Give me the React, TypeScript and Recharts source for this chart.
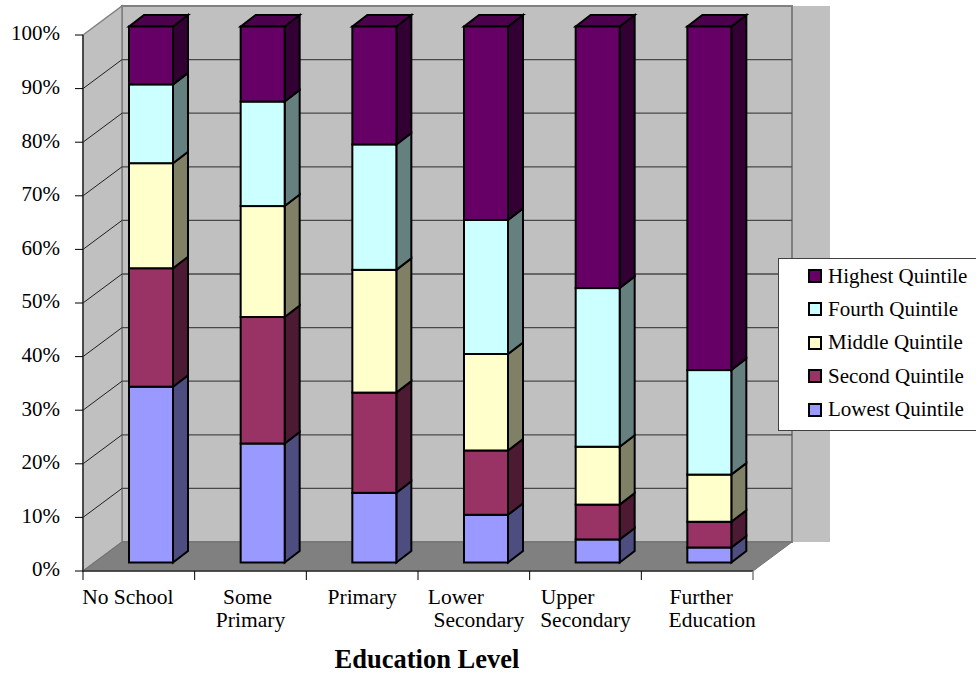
import React from "react";
import { BarChart, Bar, XAxis, YAxis, CartesianGrid, Legend } from "recharts";

const categories = ["No School", "Some Primary", "Primary", "Lower Secondary", "Upper Secondary", "Further Education"];
const lowest = [32.8, 22.2, 13.0, 8.9, 4.3, 2.8];
const second = [22.1, 23.6, 18.7, 12.0, 6.5, 4.8];
const middle = [19.6, 20.7, 22.9, 18.0, 10.8, 8.8];
const fourth = [14.7, 19.5, 23.4, 25.0, 29.6, 19.5];
const highest = [10.8, 14.0, 22.0, 36.1, 48.8, 64.1];
const yTicks = [0, 10, 20, 30, 40, 50, 60, 70, 80, 90, 100];

const rows = categories.map((name, i) => ({
  name,
  lowest: lowest[i],
  second: second[i],
  middle: middle[i],
  fourth: fourth[i],
  highest: highest[i],
}));

const FONT = "'Liberation Serif', 'Times New Roman', serif";
const WALL = "#c0c0c0";
const EDGE = "#808080";
const DEPTH_X = 39;
const DEPTH_Y = 29;
const BAR_DX = 12;
const BAR_DY = -8.5;
const SIDE_X = 15;
const SIDE_Y = 11.5;

// Each category label is split over lines, with each line nudged sideways on its own.
const tickLines: Record<string, [string, number][]> = {
  "No School": [["No School", -11]],
  "Some Primary": [["Some", -3], ["Primary", 0]],
  Primary: [["Primary", 0]],
  "Lower Secondary": [["Lower", -18], ["Secondary", 5]],
  "Upper Secondary": [["Upper", -18], ["Secondary", 0]],
  "Further Education": [["Further", 4], ["Education", 15]],
};

// Back wall, side wall and floor of the 3-D box behind the bars.
function Walls({ x, y, w, h }: { x: number; y: number; w: number; h: number }) {
  const bx = x + DEPTH_X;
  const by = y - DEPTH_Y;
  return (
    <g>
      <rect x={x + w + DEPTH_X} y={by} width={38} height={h} fill={WALL} />
      <rect x={bx} y={by} width={w} height={h} fill={WALL} stroke={EDGE} strokeWidth={2} />
      <polygon points={`${x},${y} ${bx},${by} ${bx},${by + h} ${x},${y + h}`} fill={WALL} stroke={EDGE} strokeWidth={1.5} />
      <polygon
        points={`${x},${y + h} ${bx},${by + h} ${bx + w},${by + h} ${x + w},${y + h}`}
        fill={EDGE}
        stroke="#707070"
        strokeWidth={1}
      />
    </g>
  );
}

// The grid draws the box first, then each value line bent along the side wall and the back wall.
function GridLine(props: any) {
  const { y1, index, x, y, width, height } = props;
  const inner = y1 > y + 1 && y1 < y + height - 1;
  return (
    <g>
      {index === 0 && <Walls x={x} y={y} w={width} h={height} />}
      {inner && (
        <g fill="none">
          <path d={`M${x},${y1} L${x + DEPTH_X},${y1 - DEPTH_Y}`} stroke="#202020" strokeWidth={1} />
          <path d={`M${x + DEPTH_X},${y1 - DEPTH_Y} L${x + DEPTH_X + width},${y1 - DEPTH_Y}`} stroke="#484848" strokeWidth={1.3} />
        </g>
      )}
    </g>
  );
}

function CategoryTick(props: any) {
  const { x, payload, index } = props;
  const step = 670 / categories.length;
  const last = index === categories.length - 1;
  const lines = tickLines[payload.value] ?? [[payload.value, 0]];
  return (
    <g>
      <line x1={x - step / 2} y1={571} x2={x - step / 2} y2={580} stroke="#000" strokeWidth={1} />
      {last && <line x1={x + step / 2} y1={571} x2={x + step / 2} y2={580} stroke={EDGE} strokeWidth={1.5} />}
      {lines.map(([text, dx], i) => (
        <text key={text} x={x + dx} y={604 + i * 23} textAnchor="middle" fontFamily={FONT} fontSize={21.5} fill="#000">
          {text}
        </text>
      ))}
    </g>
  );
}

function darker(hex: string, k: number) {
  const n = parseInt(hex.slice(1), 16);
  const c = [(n >> 16) & 255, (n >> 8) & 255, n & 255].map((v) => Math.round(v * k));
  return `rgb(${c[0]},${c[1]},${c[2]})`;
}

// Front, side and (for the top segment) lid of one stacked block.
function Block(props: any) {
  const { x, y, width, height, fill, lid } = props;
  const l = x + BAR_DX;
  const t = y + BAR_DY;
  const r = l + width;
  const b = t + height;
  return (
    <g stroke="#000" strokeWidth={2} strokeLinejoin="miter">
      <polygon points={`${r},${t} ${r + SIDE_X},${t - SIDE_Y} ${r + SIDE_X},${b - SIDE_Y} ${r},${b}`} fill={darker(fill, 0.5)} />
      {lid && (
        <polygon points={`${l},${t} ${l + SIDE_X},${t - SIDE_Y} ${r + SIDE_X},${t - SIDE_Y} ${r},${t}`} fill={darker(fill, 0.75)} />
      )}
      <rect x={l} y={t} width={width} height={height} fill={fill} />
    </g>
  );
}

const series: [string, string, string][] = [
  ["lowest", "Lowest Quintile", "#9999ff"],
  ["second", "Second Quintile", "#993366"],
  ["middle", "Middle Quintile", "#ffffcc"],
  ["fourth", "Fourth Quintile", "#ccffff"],
  ["highest", "Highest Quintile", "#660066"],
];

function QuintileLegend({ payload }: any) {
  const rank = (item: any) => series.findIndex((s) => s[1] === item.value);
  const items = [...(payload ?? [])].sort((a, b) => rank(b) - rank(a));
  return (
    <div
      style={{
        width: 200,
        height: 173,
        boxSizing: "border-box",
        background: "#fff",
        border: "1px solid #404040",
        fontFamily: FONT,
        fontSize: 21,
        color: "#000",
        position: "relative",
      }}
    >
      {items.map((item: any, i: number) => (
        <div key={item.value} style={{ position: "absolute", left: 29, top: 5 + i * 33.4, height: 24, display: "flex", alignItems: "center", whiteSpace: "nowrap" }}>
          <span style={{ width: 10, height: 10, background: item.color, border: "2px solid #000", marginRight: 6 }} />
          {item.value}
        </div>
      ))}
    </div>
  );
}

export default function App() {
  return (
    <div style={{ position: "absolute", left: 0, top: 0, width: 976, height: 674, overflow: "hidden", background: "#fff" }}>
      <BarChart
        width={976}
        height={674}
        data={rows}
        margin={{ top: 35, right: 23, bottom: 0, left: 0 }}
        barSize={44}
        style={{ fontFamily: FONT }}
      >
        <CartesianGrid vertical={false} horizontal={GridLine as any} />
        <XAxis
          dataKey="name"
          height={103}
          interval={0}
          tick={CategoryTick as any}
          tickLine={false}
          axisLine={{ stroke: "#303030", strokeWidth: 1.5 }}
          label={{ value: "Education Level", position: "insideBottom", offset: 6, dx: 9, fontFamily: FONT, fontSize: 26.5, fontWeight: 700, fill: "#000" }}
        />
        <YAxis
          width={83}
          domain={[0, 100]}
          ticks={yTicks}
          interval={0}
          tickFormatter={(v: number) => `${v}%`}
          tickSize={8}
          tickMargin={15}
          tickLine={{ stroke: "#000" }}
          axisLine={{ stroke: "#303030", strokeWidth: 1.5 }}
          tick={{ fontFamily: FONT, fontSize: 21, fill: "#000", dy: -2 }}
        />
        {series.map(([key, name, color]) => (
          <Bar
            key={key}
            dataKey={key}
            name={name}
            stackId="a"
            fill={color}
            isAnimationActive={false}
            shape={(p: any) => <Block {...p} fill={color} lid={key === "highest"} />}
          />
        ))}
        <Legend
          content={QuintileLegend as any}
          layout="vertical"
          align="right"
          verticalAlign="middle"
          wrapperStyle={{ position: "absolute", left: 778, top: 258, width: 200, height: 173, bottom: "auto", right: "auto" }}
        />
      </BarChart>
    </div>
  );
}
